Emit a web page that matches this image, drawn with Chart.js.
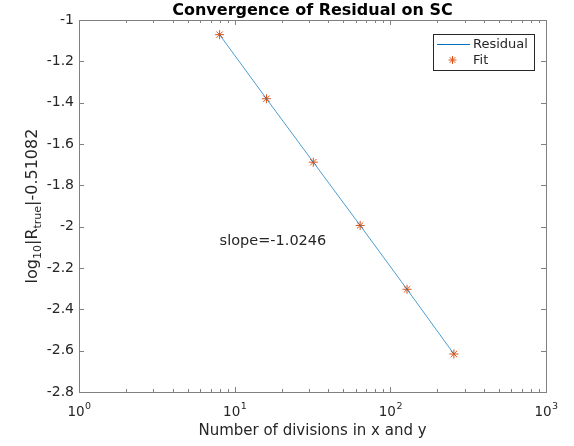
<!DOCTYPE html>
<html>
<head>
<meta charset="utf-8">
<script src="https://cdn.jsdelivr.net/npm/chart.js@4/dist/chart.umd.min.js"></script>
<style>
html,body{margin:0;padding:0;background:#fff;}
#wrap{width:574px;height:446px;}
</style>
</head>
<body>
<div id="wrap"><canvas id="c" width="574" height="446"></canvas></div>
<script>
// ---- data ----
const divisions = [8, 16, 32, 64, 128, 256];
const residual = [-1.071, -1.381, -1.688, -1.994, -2.303, -2.616];
const fit = [-1.071, -1.381, -1.688, -1.994, -2.303, -2.616];
const xMajorTicks = [1, 10, 100, 1000];
const xTickExponents = ['0', '1', '2', '3'];
const yTicks = [-1, -1.2, -1.4, -1.6, -1.8, -2, -2.2, -2.4, -2.6, -2.8];
const yTickLabels = ['-1', '-1.2', '-1.4', '-1.6', '-1.8', '-2', '-2.2', '-2.4', '-2.6', '-2.8'];
const titleText = 'Convergence of Residual on SC';
const xTitle = 'Number of divisions in x and y';
const slopeText = 'slope=-1.0246';
const slopePos = {x: 8, y: -2.07};
const seriesNames = ['Residual', 'Fit'];

const FONT = '"DejaVu Sans", sans-serif';
const TXT = '#262626';
const AX = '#808080';
const BLUE = '#0072BD';
const ORANGE = '#D95319';

function drawStar(ctx, cx, cy, r, color) {
  ctx.save();
  ctx.strokeStyle = color; ctx.lineWidth = 1;
  ctx.beginPath();
  for (let i = 0; i < 4; i++) {
    const a = i * Math.PI / 4;
    ctx.moveTo(cx - r * Math.cos(a), cy - r * Math.sin(a));
    ctx.lineTo(cx + r * Math.cos(a), cy + r * Math.sin(a));
  }
  ctx.stroke();
  ctx.restore();
}

const decor = {
  id: 'decor',
  afterDraw(chart) {
    const ctx = chart.ctx;
    const a = chart.chartArea;
    const xs = chart.scales.x, ys = chart.scales.y;
    ctx.save();
    // box
    ctx.strokeStyle = AX; ctx.lineWidth = 1;
    ctx.strokeRect(Math.round(a.left) + 0.5, Math.round(a.top) + 0.5, Math.round(a.right - a.left) , Math.round(a.bottom - a.top));
    // ticks
    ctx.beginPath();
    xMajorTicks.forEach(v => {
      const px = Math.round(xs.getPixelForValue(v)) + 0.5;
      ctx.moveTo(px, a.bottom); ctx.lineTo(px, a.bottom - 5);
      ctx.moveTo(px, a.top); ctx.lineTo(px, a.top + 5);
    });
    for (let d = 1; d < 1000; d *= 10) {
      for (let k = 2; k <= 9; k++) {
        const px = Math.round(xs.getPixelForValue(k * d)) + 0.5;
        ctx.moveTo(px, a.bottom); ctx.lineTo(px, a.bottom - 3);
        ctx.moveTo(px, a.top); ctx.lineTo(px, a.top + 3);
      }
    }
    yTicks.forEach(v => {
      const py = Math.round(ys.getPixelForValue(v)) + 0.5;
      ctx.moveTo(a.left, py); ctx.lineTo(a.left + 5, py);
      ctx.moveTo(a.right, py); ctx.lineTo(a.right - 5, py);
    });
    ctx.stroke();

    ctx.fillStyle = TXT;
    // y tick labels
    ctx.font = '14px ' + FONT;
    ctx.textAlign = 'right'; ctx.textBaseline = 'middle';
    yTicks.forEach((v, i) => {
      ctx.fillText(yTickLabels[i], a.left - 5, ys.getPixelForValue(v));
    });
    // x tick labels with superscripts
    xMajorTicks.forEach((v, i) => {
      const px = xs.getPixelForValue(v);
      ctx.font = '13.5px ' + FONT;
      const w1 = ctx.measureText('10').width;
      ctx.font = '9.5px ' + FONT;
      const w2 = ctx.measureText(xTickExponents[i]).width;
      const start = px - (w1 + w2) / 2;
      ctx.textAlign = 'left'; ctx.textBaseline = 'alphabetic';
      ctx.font = '13.5px ' + FONT;
      ctx.fillText('10', start, a.bottom + 24);
      ctx.font = '9.5px ' + FONT;
      ctx.fillText(xTickExponents[i], start + w1 + 0.5, a.bottom + 17);
    });
    // x title
    ctx.font = '15px ' + FONT;
    ctx.textAlign = 'center'; ctx.textBaseline = 'alphabetic';
    ctx.fillText(xTitle, (a.left + a.right) / 2, a.bottom + 43);
    // title
    ctx.font = 'bold 16px ' + FONT;
    ctx.fillStyle = '#000';
    ctx.fillText(titleText, (a.left + a.right) / 2, 14.5);
    ctx.fillStyle = TXT;
    // y title with subscripts, rotated
    const parts = [['log', 0], ['10', 1], ['|R', 0], ['true', 1], ['|-0.51082', 0]];
    const big = '16px ' + FONT, small = '11px ' + FONT;
    let total = 0;
    parts.forEach(p => { ctx.font = p[1] ? small : big; total += ctx.measureText(p[0]).width; });
    ctx.save();
    ctx.translate(37, (a.top + a.bottom) / 2);
    ctx.rotate(-Math.PI / 2);
    ctx.textAlign = 'left'; ctx.textBaseline = 'alphabetic';
    let cx = -total / 2;
    parts.forEach(p => {
      ctx.font = p[1] ? small : big;
      ctx.fillText(p[0], cx, p[1] ? 4 : 0);
      cx += ctx.measureText(p[0]).width;
    });
    ctx.restore();
    // slope annotation
    ctx.font = '14.5px ' + FONT;
    ctx.textAlign = 'left'; ctx.textBaseline = 'middle';
    ctx.fillText(slopeText, xs.getPixelForValue(slopePos.x), ys.getPixelForValue(slopePos.y));
    // legend
    const lx = 433.5, ly = 34.5, lw = 101, lh = 36;
    ctx.fillStyle = '#fff';
    ctx.fillRect(lx, ly, lw, lh);
    ctx.strokeStyle = '#262626'; ctx.lineWidth = 1;
    ctx.strokeRect(lx, ly, lw, lh);
    ctx.strokeStyle = BLUE; ctx.lineWidth = 1;
    ctx.beginPath(); ctx.moveTo(437, 44.5); ctx.lineTo(470, 44.5); ctx.stroke();
    drawStar(ctx, 452.5, 60, 4, ORANGE);
    ctx.fillStyle = TXT;
    ctx.font = '13px ' + FONT;
    ctx.textAlign = 'left'; ctx.textBaseline = 'middle';
    ctx.fillText(seriesNames[0], 473, 44.5);
    ctx.fillText(seriesNames[1], 473, 61);
    ctx.restore();
  }
};

new Chart(document.getElementById('c'), {
  type: 'line',
  data: {
    datasets: [
      {
        label: seriesNames[0],
        data: divisions.map((d, i) => ({x: d, y: residual[i]})),
        borderColor: BLUE, borderWidth: 0.7, pointRadius: 0, tension: 0, fill: false
      },
      {
        label: seriesNames[1],
        data: divisions.map((d, i) => ({x: d, y: fit[i]})),
        showLine: false, borderColor: ORANGE, backgroundColor: ORANGE,
        pointStyle: 'star', pointRadius: 4.5, pointBorderWidth: 1
      }
    ]
  },
  options: {
    responsive: false,
    animation: false,
    layout: {padding: {left: 79, top: 20, right: 28, bottom: 54}},
    plugins: {legend: {display: false}, tooltip: {enabled: false}, title: {display: false}},
    scales: {
      x: {type: 'logarithmic', min: 1, max: 1000, display: false},
      y: {type: 'linear', min: -2.8, max: -1, display: false}
    }
  },
  plugins: [decor]
});
</script>
</body>
</html>
